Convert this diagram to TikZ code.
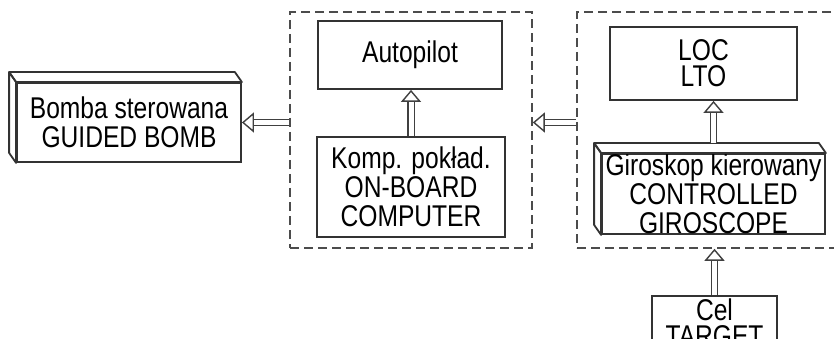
\documentclass[tikz,border=0pt]{standalone}
\usepackage{fontspec}
\setmainfont{Liberation Sans}[FakeStretch=0.82]
\usetikzlibrary{arrows.meta}

\tikzset{
  blk/.style={draw=black!80, line width=1.8pt, inner sep=0pt, align=center,
    font=\fontsize{30}{29}\selectfont},
  face/.style={draw=black!80, line width=1.8pt, line join=round},
  grp/.style={draw=black!70, line width=1.6pt, dash pattern=on 9pt off 5pt},
  flow/.style={draw=black!75, double, double distance=5pt, line width=1.4pt,
    -{Triangle[open, length=12pt, width=20pt]}},
}
% top and left faces of a raised block
\newcommand\bevel[1]{%
  \draw[face] ([shift={(-7,-10)}]#1.north west) -- ([shift={(-7,-10)}]#1.north east)
    -- (#1.north east) -- (#1.north west) -- cycle;
  \draw[face] ([shift={(-7,-10)}]#1.north west) -- (#1.north west)
    -- (#1.south west) -- ([shift={(-7,-10)}]#1.south west) -- cycle;
}

\begin{document}
\begin{tikzpicture}[x=1pt, y=-1pt]
\useasboundingbox (0,0) rectangle (834,339);
\clip (0,0) rectangle (834,339);

% the two dashed groups
\node[grp, minimum width=242pt, minimum height=236pt] (ctrl) at (411,130) {};
\node[grp, minimum width=268pt, minimum height=236pt] (seek) at (711,130) {};

\node[blk, minimum width=184pt, minimum height=68pt] (auto) at (410,55) {Autopilot};
\node[blk, minimum width=188pt, minimum height=100pt] (komp) at (411,187)
  {Komp. pokład.\\ON-BOARD\\COMPUTER};
\node[blk, minimum width=187pt, minimum height=73pt, font=\fontsize{30}{26}\selectfont]
  (loc) at (703.5,63.5) {LOC\\LTO};
\node[blk, minimum width=223pt, minimum height=78pt] (giro) at (713.5,194)
  {Giroskop kierowany\\CONTROLLED\\GIROSCOPE};
\node[blk, minimum width=224pt, minimum height=79pt] (bomb) at (129,122.5)
  {Bomba sterowana\\GUIDED BOMB};
\node[blk, minimum width=125pt, anchor=north, inner ysep=3pt,
  font=\fontsize{30}{26}\selectfont] (cel) at (714.5,295) {Cel\\TARGET};
\bevel{bomb}
\bevel{giro}

% signal flow
\draw[flow] (ctrl.west |- bomb.east) -- (bomb.east);
\draw[flow] (seek.west |- bomb.east) -- (ctrl.east |- bomb.east);
\draw[flow] (komp.north) -- (komp.north |- auto.south);
\draw[flow] ([yshift=10pt]giro.north) -- (giro.north |- loc.south);
\draw[flow] (cel.north) -- (cel.north |- seek.south);
\end{tikzpicture}
\end{document}
